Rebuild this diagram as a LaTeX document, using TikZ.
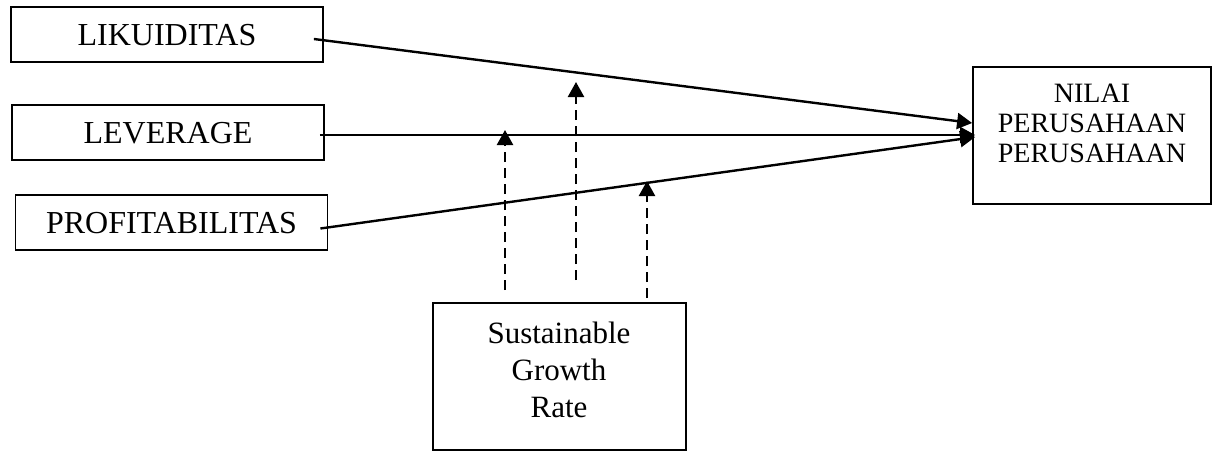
\documentclass[tikz,border=0pt]{standalone}
\usepackage{fontspec}
\setmainfont{Liberation Serif}
\usetikzlibrary{arrows.meta,calc}
\begin{document}
\begin{tikzpicture}[x=1pt,y=-1pt,
  box/.style={draw, line width=1.8pt, inner sep=0pt, minimum width=312pt, minimum height=55pt,
    font=\fontsize{32}{38}\selectfont, text height=21pt, text depth=0pt},
  plainbox/.style={draw, line width=1.8pt, inner sep=0pt},
  arr/.style={line width=2.4pt, -{Triangle[length=15pt,width=16pt]}},
  darr/.style={arr, dash pattern=on 10pt off 6pt}]
\useasboundingbox (0,0) rectangle (1218,450);

\node[box] (lik) at (167,34.5) {LIKUIDITAS};
\node[box] (lev) at (168,132.5) {LEVERAGE};
\node[box] (prof) at (171.5,222.5) {PROFITABILITAS};

\node[plainbox, minimum width=238pt, minimum height=137pt] (nilai) at (1092,135.5) {};
\node[font=\fontsize{28}{30}\selectfont, align=center, inner sep=0pt, anchor=north] (nilaitext) at (1092,84) {NILAI\\PERUSAHAAN\\PERUSAHAAN};

\node[plainbox, minimum width=253pt, minimum height=147pt] (sgr) at (559.5,376.5) {};
\node[font=\fontsize{31}{37}\selectfont, align=center, inner sep=0pt, anchor=north] (sgrtext) at (559,322) {Sustainable\\Growth\\Rate};

\draw[arr] ($(lik.east)+(-10,4.5)$) -- ($(nilai.west)+(0,-12.5)$);
\draw[arr] ($(lev.east)+(-5,2.5)$) -- ($(nilai.west)+(3,-0.5)$);
\draw[arr] ($(prof.east)+(-8,6)$) -- ($(nilai.west)+(3,1.5)$);

\coordinate (d1s) at (505,290);
\coordinate (d1e) at (505,130);
\coordinate (d2s) at (576,280);
\coordinate (d2e) at (576,82);
\coordinate (d3s) at (647,298);
\coordinate (d3e) at (647,181);
\draw[darr] (d1s) -- (d1e);
\draw[darr] (d2s) -- (d2e);
\draw[darr] (d3s) -- (d3e);
\end{tikzpicture}
\end{document}
